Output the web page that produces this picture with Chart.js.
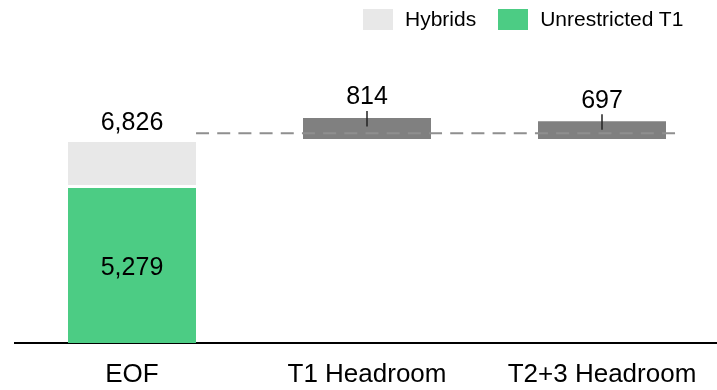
<!DOCTYPE html>
<html>
<head>
<meta charset="utf-8">
<script src="https://cdn.jsdelivr.net/npm/chart.js@4.4.1/dist/chart.umd.min.js"></script>
<style>
  html, body { margin: 0; padding: 0; background: #fff; overflow: hidden; width: 717px; height: 390px; }
  #wrap { position: relative; width: 720px; height: 390px; }
  #legend { position: absolute; top: 7px; left: 363px; display: flex; align-items: center;
            font: 21px 'Liberation Sans', Arial, sans-serif; color: #000; white-space: nowrap; }
  .item { display: flex; align-items: center; margin-right: 22px; }
  .box { width: 30px; height: 21px; margin-right: 12px; }
</style>
</head>
<body>
<div id="wrap">
  <canvas id="c" width="720" height="390"></canvas>
  <div id="legend"></div>
</div>
<script>
// Categories and values
const categories = ['EOF', 'T1 Headroom', 'T2+3 Headroom'];
const unrestrictedT1 = [5279, null, null];
const hybrids = [1547, null, null];
const headroom = [null, 814, 697];
const referenceLevel = 7070;

const FONT = "'Liberation Sans', Arial, sans-serif";
const GREEN = '#4ccc84';
const LIGHT = '#e8e8e8';
const DARK = '#808080';

// Headroom bars float on top of the EOF total
const eofTotal = unrestrictedT1[0] + hybrids[0];
const headroomRanges = headroom.map(v => v == null ? null : [eofTotal, eofTotal + v]);

const fmt = v => v.toLocaleString('en-US');

// white separators between stacked pieces
const segBorder = { top: 1.5, bottom: 1.5, left: 0, right: 0 };
const baseBorder = { top: 1.5, bottom: 0, left: 0, right: 0 };

const overlay = {
  id: 'overlay',
  afterDatasetsDraw(chart) {
    const { ctx } = chart;
    const y = chart.scales.y;
    const mUnr = chart.getDatasetMeta(0);
    const mHyb = chart.getDatasetMeta(1);
    const mHead = chart.getDatasetMeta(2);
    ctx.save();

    // dashed reference level, dashes at both ends
    const first = mHyb.data[0];
    const last = mHead.data[categories.length - 1];
    const yRef = y.getPixelForValue(referenceLevel);
    const x0 = first.x + first.width / 2;
    const x1 = last.x + last.width / 2 + 9;
    const dash = 13;
    const n = Math.round((x1 - x0 - dash) / 21);
    const gap = (x1 - x0 - dash) / n - dash;
    ctx.strokeStyle = '#8f8f8f';
    ctx.lineWidth = 2;
    ctx.setLineDash([dash, gap]);
    ctx.beginPath();
    ctx.moveTo(x0, yRef);
    ctx.lineTo(x1, yRef);
    ctx.stroke();
    ctx.setLineDash([]);

    ctx.fillStyle = '#000';
    ctx.font = '25px ' + FONT;
    ctx.textAlign = 'center';

    // EOF total above the stack
    const top0 = y.getPixelForValue(eofTotal);
    ctx.textBaseline = 'alphabetic';
    ctx.fillText(fmt(eofTotal), first.x, top0 - 10.5);

    // Unrestricted T1 value inside its segment
    const u = mUnr.data[0];
    ctx.textBaseline = 'middle';
    ctx.fillText(fmt(unrestrictedT1[0]), u.x, (u.y + u.base) / 2 + 3);

    // Headroom values with a short leader
    ctx.textBaseline = 'alphabetic';
    ctx.strokeStyle = '#222';
    ctx.lineWidth = 1.5;
    headroom.forEach((v, i) => {
      if (v == null) return;
      const el = mHead.data[i];
      const yt = y.getPixelForValue(eofTotal + v);
      ctx.fillText(fmt(v), el.x, yt - 12);
      ctx.beginPath();
      ctx.moveTo(el.x, yt - 5.5);
      ctx.lineTo(el.x, yt + 10);
      ctx.stroke();
    });
    ctx.restore();
  }
};

const chart = new Chart(document.getElementById('c'), {
  type: 'bar',
  data: {
    labels: categories,
    datasets: [
      { label: 'Unrestricted T1', data: unrestrictedT1, backgroundColor: GREEN,
        borderColor: '#fff', borderWidth: baseBorder, borderSkipped: false, stack: 's' },
      { label: 'Hybrids', data: hybrids, backgroundColor: LIGHT,
        borderColor: '#fff', borderWidth: segBorder, borderSkipped: false, stack: 's' },
      { label: 'Headroom', data: headroomRanges, backgroundColor: DARK,
        borderColor: '#fff', borderWidth: segBorder, borderSkipped: false, stack: 's', inLegend: false }
    ]
  },
  options: {
    responsive: false,
    animation: false,
    devicePixelRatio: 1,
    layout: { padding: { top: 46.4, left: 14.5, right: 0.5, bottom: 0 } },
    datasets: { bar: { categoryPercentage: 1, barPercentage: 0.545 } },
    plugins: { legend: { display: false }, tooltip: { enabled: false } },
    scales: {
      x: {
        stacked: true,
        grid: { display: false, drawTicks: false },
        border: { display: true, color: '#000', width: 2 },
        ticks: { color: '#000', padding: 16, font: { family: FONT, size: 26 } },
        afterFit(scale) { scale.height = 47; }
      },
      y: { stacked: true, display: false, min: 0, max: 10000 }
    }
  },
  plugins: [overlay]
});

// Legend built from the chart's datasets (top segment first)
const legendEl = document.getElementById('legend');
chart.data.datasets.filter(ds => ds.inLegend !== false).reverse().forEach(ds => {
  const item = document.createElement('div');
  item.className = 'item';
  const box = document.createElement('span');
  box.className = 'box';
  box.style.background = ds.backgroundColor;
  const txt = document.createElement('span');
  txt.textContent = ds.label;
  item.appendChild(box);
  item.appendChild(txt);
  legendEl.appendChild(item);
});
</script>
</body>
</html>
